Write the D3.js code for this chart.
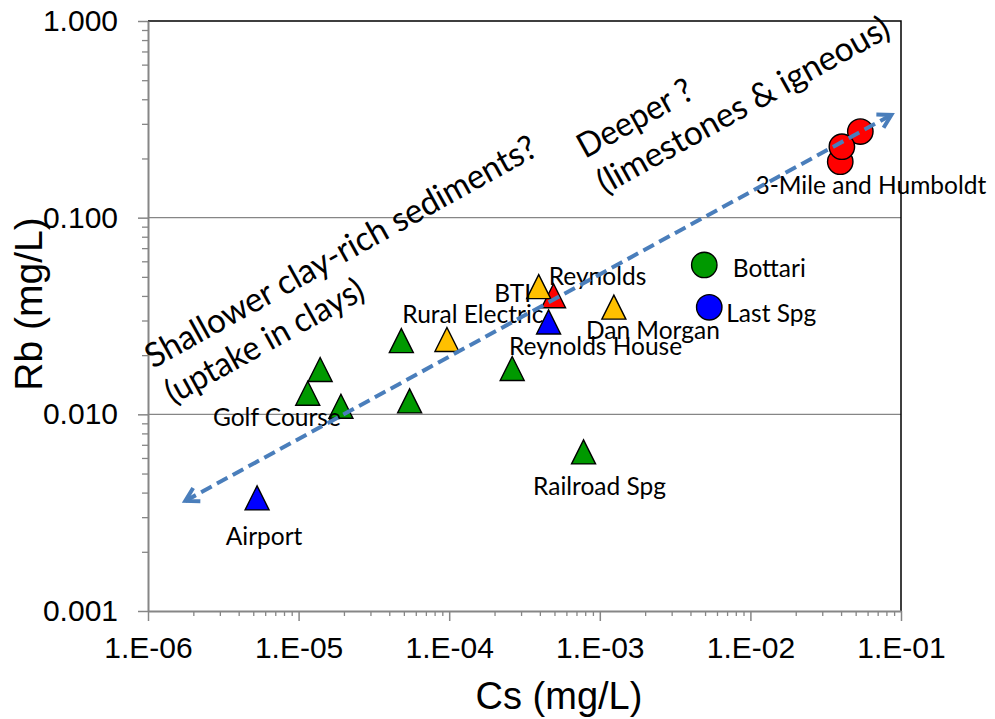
<!DOCTYPE html>
<html>
<head>
<meta charset="utf-8">
<script src="https://cdn.jsdelivr.net/npm/d3@7"></script>
<style>
  body { margin: 0; background: #fff; }
  svg { display: block; }
</style>
</head>
<body>
<svg id="chart" width="995" height="719"></svg>
<script>
// Sampled sites: caesium vs rubidium concentrations (mg/L)
const siteNames = [
  "", "", "Golf Course", "", "", "", "Railroad Spg",
  "Reynolds",
  "Rural Electric", "BTI", "Dan Morgan",
  "Airport", "Reynolds House",
  "Bottari", "Last Spg",
  "", "", "3-Mile and Humboldt"
];
const csValues = [
  1.39e-5, 1.15e-5, 1.91e-5, 4.81e-5, 5.46e-5, 2.62e-4, 7.8e-4,
  4.93e-4,
  9.66e-5, 3.93e-4, 1.24e-3,
  5.3e-6, 4.57e-4,
  4.94e-3, 5.33e-3,
  0.0537, 0.0395, 0.0405
];
const rbValues = [
  0.0169, 0.0128, 0.0110, 0.0237, 0.0117, 0.0171, 0.00644,
  0.0401,
  0.0240, 0.0446, 0.0351,
  0.00376, 0.0295,
  0.0575, 0.0350,
  0.274, 0.1926, 0.2296
];
// group of each site and whether it is plotted as a triangle or a circle
const siteGroup = [1,1,1,1,1,1,1, 3, 2,2,2, 4,4, 1,4, 3,3,3];
const siteKind  = ["T","T","T","T","T","T","T", "T", "T","T","T", "T","T", "C","C", "C","C","C"];

// axis ticks
const xTickValues = [1e-6, 1e-5, 1e-4, 1e-3, 1e-2, 1e-1];
const yTickValues = [0.001, 0.01, 0.1, 1];

// trend arrow end points (Cs, Rb)
const trendFrom = [1.77e-6, 0.00363];
const trendTo   = [0.0863, 0.333];

// annotation text
const shallowLines = ["Shallower clay-rich sediments?", "(uptake in clays)"];
const deepLines = ["Deeper ?", "(limestones & igneous)"];

// ---------- drawing ----------
const groupColor = {1: "#009900", 2: "#FFC000", 3: "#FF0000", 4: "#0000FF"};
const axisGray = "#868686";
const labelFont = "Lato, 'Open Sans', sans-serif";
const numFont = "'Liberation Sans', Arial, sans-serif";

const svg = d3.select("#chart");
const plotL = 148, plotR = 901, plotT = 21, plotB = 611;

const x = d3.scaleLog().domain([1e-6, 1e-1]).range([plotL, plotR]);
const y = d3.scaleLog().domain([0.001, 1]).range([plotB, plotT]);

function minorTicks(domain) {
  const out = [];
  const e0 = Math.round(Math.log10(domain[0])), e1 = Math.round(Math.log10(domain[1]));
  for (let e = e0; e < e1; e++) for (let m = 2; m <= 9; m++) out.push(m * Math.pow(10, e));
  return out;
}
const sciFmt = v => {
  const e = Math.round(Math.log10(v));
  return "1.E" + (e < 0 ? "-" : "+") + String(Math.abs(e)).padStart(2, "0");
};

// gridlines
svg.append("g").selectAll("line")
  .data(yTickValues.filter(v => v > 0.001 && v < 1))
  .join("line")
  .attr("x1", plotL).attr("x2", plotR)
  .attr("y1", d => y(d)).attr("y2", d => y(d))
  .attr("stroke", axisGray).attr("stroke-width", 1.3);

// frame top and right (black)
svg.append("path")
  .attr("d", `M${plotL},${plotT}H${plotR}V${plotB}`)
  .attr("fill", "none").attr("stroke", "#000").attr("stroke-width", 1.5);

// minor ticks
svg.append("g").attr("transform", `translate(0,${plotB})`)
  .call(d3.axisBottom(x).tickValues(minorTicks(x.domain())).tickSize(5).tickFormat(""))
  .call(g => g.select(".domain").remove())
  .call(g => g.selectAll("line").attr("stroke", axisGray).attr("stroke-width", 1.3));
svg.append("g").attr("transform", `translate(${plotL},0)`)
  .call(d3.axisLeft(y).tickValues(minorTicks(y.domain())).tickSize(6).tickFormat(""))
  .call(g => g.select(".domain").remove())
  .call(g => g.selectAll("line").attr("stroke", axisGray).attr("stroke-width", 1.3));

// major axes
const xAxis = svg.append("g").attr("transform", `translate(0,${plotB})`)
  .call(d3.axisBottom(x).tickValues(xTickValues).tickSize(10).tickSizeOuter(0).tickPadding(16).tickFormat(sciFmt));
const yAxis = svg.append("g").attr("transform", `translate(${plotL},0)`)
  .call(d3.axisLeft(y).tickValues(yTickValues).tickSize(10).tickSizeOuter(0).tickPadding(20).tickFormat(d3.format(".3f")));
[xAxis, yAxis].forEach(a => {
  a.select(".domain").attr("stroke", axisGray).attr("stroke-width", 2);
  a.selectAll(".tick line").attr("stroke", axisGray).attr("stroke-width", 1.5);
  a.selectAll(".tick text").attr("fill", "#000").style("font-family", numFont).style("font-size", "30px");
});

// axis titles
svg.append("text")
  .attr("x", 559).attr("y", 709).attr("text-anchor", "middle")
  .style("font-family", numFont).style("font-size", "38px").text("Cs (mg/L)");
svg.append("text")
  .attr("transform", "translate(42,304) rotate(-90)").attr("text-anchor", "middle")
  .style("font-family", numFont).style("font-size", "39px").text("Rb (mg/L)");

// markers
const pts = siteNames.map((name, i) => ({
  name, cs: csValues[i], rb: rbValues[i], group: siteGroup[i], kind: siteKind[i]
}));
const tri = "M0,-12L12,12L-12,12Z";
const markers = svg.append("g");
markers.selectAll("g.pt").data(pts).join("g")
  .attr("class", "pt")
  .attr("transform", d => `translate(${x(d.cs)},${y(d.rb)})`)
  .each(function(d) {
    const g = d3.select(this);
    if (d.kind === "T") g.append("path").attr("d", tri);
    else g.append("circle").attr("r", 12.7);
    g.select("*").attr("fill", groupColor[d.group]).attr("stroke", "#000").attr("stroke-width", 1.4);
  });

// site labels, offset from their marker
const labelOffset = {
  "Golf Course": [-64, 20],
  "Airport": [7, 47],
  "Rural Electric": [26, -17],
  "BTI": [-26, 15],
  "Reynolds": [44, -11],
  "Reynolds House": [47, 33],
  "Dan Morgan": [39, 32],
  "Railroad Spg": [16, 43],
  "Bottari": [65, 12],
  "Last Spg": [62, 15],
  "3-Mile and Humboldt": [29, 47]
};
svg.append("g").selectAll("text")
  .data(pts.filter(d => d.name))
  .join("text")
  .attr("x", d => x(d.cs) + labelOffset[d.name][0])
  .attr("y", d => y(d.rb) + labelOffset[d.name][1])
  .attr("text-anchor", "middle")
  .style("font-family", labelFont).style("font-size", "24.5px").attr("fill", "#000")
  .text(d => d.name);

// double-headed trend arrow
const ax0 = x(trendFrom[0]), ay0 = y(trendFrom[1]);
const ax1 = x(trendTo[0]), ay1 = y(trendTo[1]);
const arrowColor = "#4A7EBB";
svg.append("line")
  .attr("x1", ax0).attr("y1", ay0).attr("x2", ax1).attr("y2", ay1)
  .attr("stroke", arrowColor).attr("stroke-width", 4).attr("stroke-dasharray", "12,6");
function head(tx, ty, ang) {
  const len = 15, spread = Math.PI / 6;
  const p1 = [tx - len * Math.cos(ang - spread), ty - len * Math.sin(ang - spread)];
  const p2 = [tx - len * Math.cos(ang + spread), ty - len * Math.sin(ang + spread)];
  svg.append("path")
    .attr("d", `M${p1}L${tx},${ty}L${p2}`)
    .attr("fill", "none").attr("stroke", arrowColor).attr("stroke-width", 4)
    .attr("stroke-linejoin", "miter");
}
const ang = Math.atan2(ay1 - ay0, ax1 - ax0);
head(ax1, ay1, ang);
head(ax0, ay0, ang + Math.PI);

// rotated interpretation notes
function note(lines, startX, startY, lengths) {
  const g = svg.append("g").attr("transform", `translate(${startX},${startY}) rotate(-29)`);
  lines.forEach((t, i) => {
    g.append("text")
      .attr("x", 0).attr("y", i * 41)
      .attr("textLength", lengths[i]).attr("lengthAdjust", "spacingAndGlyphs")
      .style("font-family", labelFont).style("font-size", "34px").attr("fill", "#000")
      .text(t);
  });
}
note(shallowLines, 153, 369, [442, 222]);
note(deepLines, 585, 159, [127, 329]);
</script>
</body>
</html>
